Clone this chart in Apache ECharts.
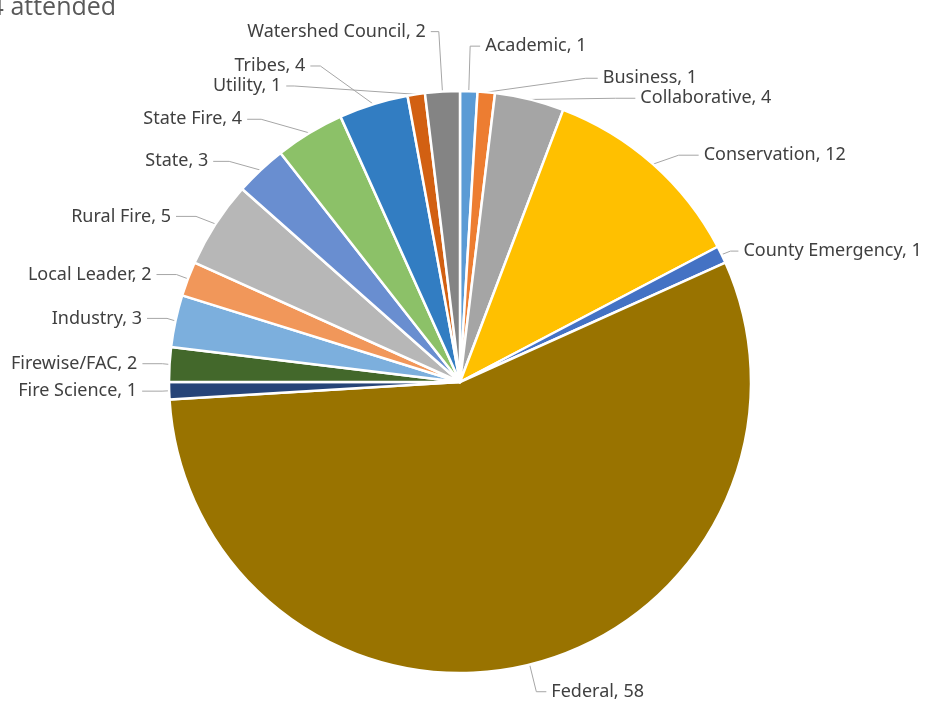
<!DOCTYPE html>
<html>
<head>
<meta charset="utf-8">
<script src="https://cdn.jsdelivr.net/npm/echarts@6/dist/echarts.min.js"></script>
<style>
  html, body { margin: 0; padding: 0; background: #fff; }
  #main { width: 936px; height: 711px; }
</style>
</head>
<body>
<div id="main"></div>
<script>
const categories = ['Academic', 'Business', 'Collaborative', 'Conservation', 'County Emergency', 'Federal',
  'Fire Science', 'Firewise/FAC', 'Industry', 'Local Leader', 'Rural Fire', 'State', 'State Fire',
  'Tribes', 'Utility', 'Watershed Council'];
const counts = [1, 1, 4, 12, 1, 58, 1, 2, 3, 2, 5, 3, 4, 4, 1, 2];
const colors = ['#5B9BD5', '#ED7D31', '#A5A5A5', '#FFC000', '#4472C4', '#997300',
  '#264478', '#43682B', '#7CAFDD', '#F1975A', '#B7B7B7', '#698ED0', '#8CC168',
  '#327DC2', '#D26012', '#848484'];
// leader line lengths (first segment, second segment) for each slice label
const lineLen1 = [45, 14, 8, 12, 8, 28, 12, 12, 12, 12, 14, 12, 16, 40, 26, 60];
const lineLen2 = [10, 12, 20, 20, 8, 10, 20, 20, 20, 20, 20, 16, 14, 10, 8, 8];
const titleText = '104 attended';

const chart = echarts.init(document.getElementById('main'));

const option = {
  animation: false,
  color: colors,
  graphic: [{
    type: 'text',
    left: -39,
    top: -5,
    style: { text: titleText, fontSize: 25, fill: '#595959', fontFamily: 'Open Sans' }
  }],
  series: [{
    type: 'pie',
    center: [460, 382],
    radius: 291,
    startAngle: 90,
    clockwise: true,
    avoidLabelOverlap: true,
    itemStyle: { borderColor: '#fff', borderWidth: 2.5 },
    label: {
      show: true,
      formatter: '{b}, {c}',
      color: '#404040',
      fontSize: 18,
      fontFamily: 'Noto Sans',
      overflow: 'none'
    },
    labelLine: {
      show: true,
      lineStyle: { color: '#A6A6A6', width: 1 }
    },
    data: categories.map((c, i) => ({
      name: c,
      value: counts[i],
      labelLine: { length: lineLen1[i], length2: lineLen2[i] }
    }))
  }]
};

chart.setOption(option);
</script>
</body>
</html>
